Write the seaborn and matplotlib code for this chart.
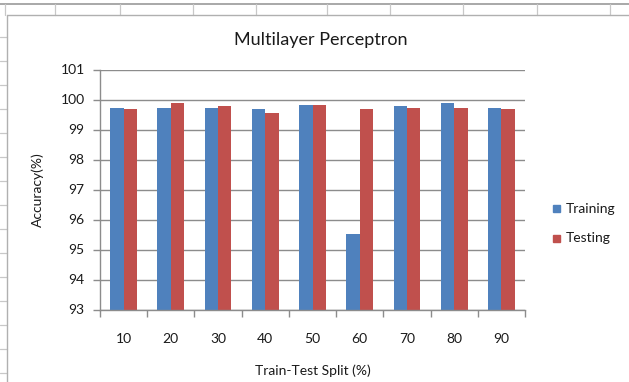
import matplotlib
matplotlib.use("Agg")
import matplotlib.pyplot as plt
from matplotlib.lines import Line2D
from matplotlib.patches import Rectangle
import numpy as np
import pandas as pd
import seaborn as sns

# Accuracy of the multilayer perceptron for each train/test split
splits = ["10", "20", "30", "40", "50", "60", "70", "80", "90"]
training = [99.73, 99.73, 99.73, 99.70, 99.82, 95.52, 99.78, 99.90, 99.73]
testing = [99.70, 99.90, 99.78, 99.54, 99.82, 99.70, 99.73, 99.73, 99.70]
series_names = ["Training", "Testing"]
y_ticks = [93, 94, 95, 96, 97, 98, 99, 100, 101]

df = pd.DataFrame({
    "split": splits * 2,
    "accuracy": training + testing,
    "series": [series_names[0]] * len(splits) + [series_names[1]] * len(splits),
})

sns.set_theme(style="white")
plt.rcParams["font.family"] = ["Lato", "DejaVu Sans"]

W, H = 629, 382
fig = plt.figure(figsize=(W / 100, H / 100), dpi=100)
fig.patch.set_facecolor("white")

# spreadsheet cell lines around the embedded chart
cell = "#c8c8c8"
fig.add_artist(Line2D([0, 1], [1 - 3.5 / H] * 2, color="#9a9a9a", lw=1.2))
for x in [5, 55, 120, 193, 256, 327, 390, 463, 537, 610]:
    fig.add_artist(Line2D([x / W] * 2, [1 - 4 / H, 1 - 15 / H], color=cell, lw=0.9))
for y in np.arange(37, 382, 24):
    fig.add_artist(Line2D([0, 7 / W], [1 - y / H] * 2, color=cell, lw=0.9))
fig.add_artist(Line2D([7 / W, 1], [1 - 15 / H] * 2, color="#b0b0b0", lw=1.0))
fig.add_artist(Line2D([7 / W] * 2, [0, 1 - 15 / H], color="#b0b0b0", lw=1.0))

# plot area
left, right, top, bottom = 100, 525, 69.5, 309.5
ax = fig.add_axes([left / W, 1 - bottom / H, (right - left) / W, (bottom - top) / H])

palette = {"Training": "#4F81BD", "Testing": "#C0504D"}
sns.barplot(data=df, x="split", y="accuracy", hue="series", order=splits,
            hue_order=series_names, palette=palette, width=0.565, saturation=1,
            edgecolor="none", linewidth=0, legend=False, ax=ax)

ax.set_ylim(93, 101)
ax.set_yticks(y_ticks)
ax.set_xlim(-0.5, len(splits) - 0.5)
ax.grid(axis="y", color="#8c8c8c", lw=1.0)
ax.grid(axis="x", visible=False)
ax.set_axisbelow(True)

for side in ["top", "right"]:
    ax.spines[side].set_visible(False)
for side in ["left", "bottom"]:
    ax.spines[side].set_color("#8c8c8c")
    ax.spines[side].set_linewidth(1.0)

# category boundary ticks on the x axis
ax.set_xticks(np.arange(-0.5, len(splits), 1.0), minor=True)
ax.tick_params(axis="x", which="minor", length=5, width=1, color="#8c8c8c", bottom=True)
ax.tick_params(axis="x", which="major", length=0, pad=17, labelsize=10, colors="#1a1a1a")
ax.tick_params(axis="y", which="major", length=5, width=1, color="#8c8c8c", left=True,
               pad=6, labelsize=10, colors="#1a1a1a")

ax.set_xlabel("Train-Test Split (%)", fontsize=10, color="#1a1a1a", labelpad=14)
ax.set_ylabel("Accuracy(%)", fontsize=10, color="#1a1a1a", labelpad=12)

fig.text(321 / W, 1 - 40 / H, "Multilayer Perceptron", ha="center", va="center",
         fontsize=13, color="#1a1a1a")

# legend
for i, name in enumerate(series_names):
    yc = 209 + i * 29
    fig.add_artist(Rectangle((553 / W, 1 - (yc + 3.5) / H), 7 / W, 7 / H,
                             color=palette[name], transform=fig.transFigure))
    fig.text(566 / W, 1 - yc / H, name, ha="left", va="center", fontsize=10,
             color="#1a1a1a")

fig.savefig("out.png", dpi=100, facecolor="white")
